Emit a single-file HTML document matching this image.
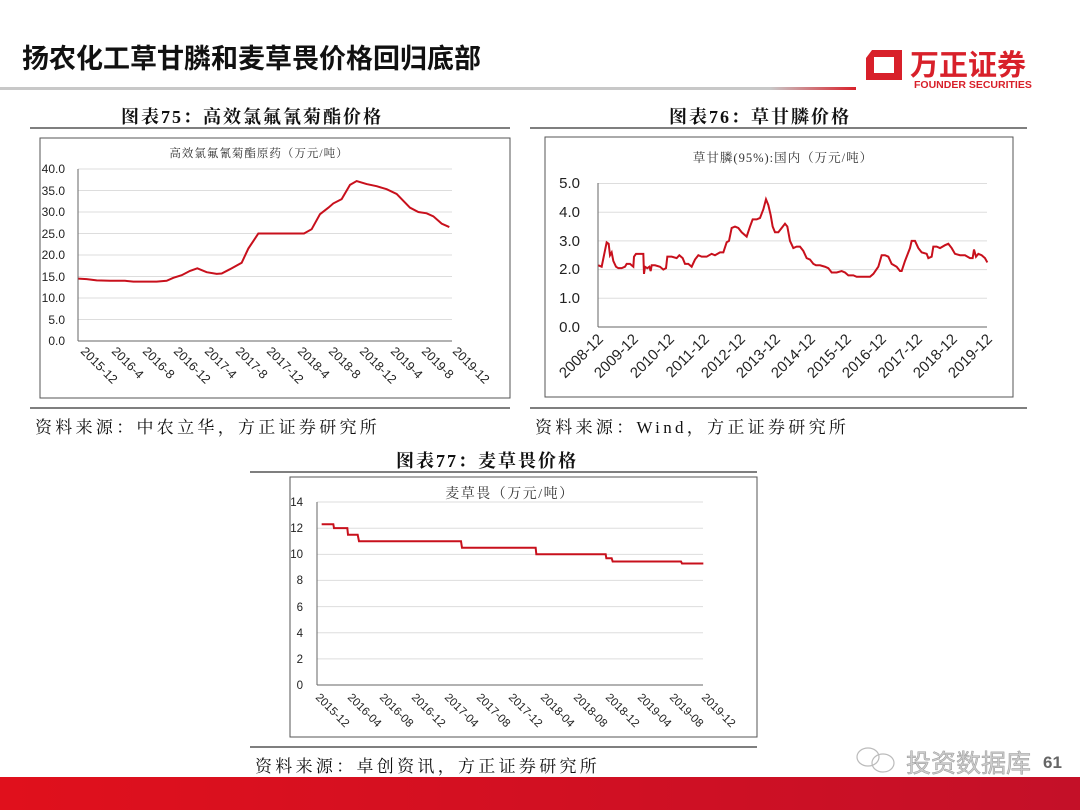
<!DOCTYPE html>
<html><head><meta charset="utf-8"><style>
html,body{margin:0;padding:0;background:#fff;}
svg{display:block;}
.s{font-family:"Liberation Serif","Noto Serif CJK SC",serif;}
.a{font-family:"Liberation Sans","Noto Sans CJK SC",sans-serif;}
</style></head><body>
<svg width="1080" height="810" viewBox="0 0 1080 810" xmlns="http://www.w3.org/2000/svg">
<defs>
<linearGradient id="hl" x1="0" x2="1"><stop offset="0" stop-color="#c8c8c8"/><stop offset="0.9" stop-color="#c8c8c8"/><stop offset="1" stop-color="#d8202a"/></linearGradient>
<linearGradient id="bb" x1="0" x2="1"><stop offset="0" stop-color="#e0101c"/><stop offset="1" stop-color="#c41028"/></linearGradient>
</defs>
<rect width="1080" height="810" fill="#fff"/>
<text x="22" y="68" class="a" font-size="27" font-weight="bold" fill="#111">扬农化工草甘膦和麦草畏价格回归底部</text>
<rect x="0" y="87" width="856" height="3" fill="url(#hl)"/>
<path d="M872 50 L902 50 L902 80 L866 80 L866 58 Z M874 57 L874 73 L894 73 L894 57 Z" fill="#d8202a" fill-rule="evenodd"/>
<text x="910" y="75" class="a" font-size="29" font-weight="bold" fill="#d8202a">万正证券</text>
<text x="914" y="88" class="a" font-size="10.5" font-weight="bold" fill="#d8202a">FOUNDER SECURITIES</text>

<!-- Chart 1 -->
<text x="252" y="123" class="s" font-size="18" font-weight="bold" text-anchor="middle" fill="#111" letter-spacing="2">图表75：高效氯氟氰菊酯价格</text>
<line x1="30" y1="128" x2="510" y2="128" stroke="#333" stroke-width="1.2"/>
<rect x="40" y="138" width="470" height="260" fill="none" stroke="#555" stroke-width="1"/>
<text x="259" y="157" class="s" font-size="11.5" text-anchor="middle" fill="#333" letter-spacing="1">高效氯氟氰菊酯原药（万元/吨）</text>
<g stroke="#ddd" stroke-width="1">
<line x1="78" y1="169" x2="452" y2="169"/><line x1="78" y1="190.5" x2="452" y2="190.5"/><line x1="78" y1="212" x2="452" y2="212"/><line x1="78" y1="233.5" x2="452" y2="233.5"/><line x1="78" y1="255" x2="452" y2="255"/><line x1="78" y1="276.5" x2="452" y2="276.5"/><line x1="78" y1="298" x2="452" y2="298"/><line x1="78" y1="319.5" x2="452" y2="319.5"/>
</g>
<line x1="78" y1="169" x2="78" y2="341" stroke="#666"/>
<line x1="78" y1="341" x2="452" y2="341" stroke="#666"/>
<g class="a" font-size="12" fill="#222" text-anchor="end">
<text x="65" y="173">40.0</text><text x="65" y="195">35.0</text><text x="65" y="216">30.0</text><text x="65" y="238">25.0</text><text x="65" y="259">20.0</text><text x="65" y="281">15.0</text><text x="65" y="302">10.0</text><text x="65" y="324">5.0</text><text x="65" y="345">0.0</text>
</g>
<g class="a" font-size="12.5" fill="#222">
<text transform="translate(80,352) rotate(45)">2015-12</text>
<text transform="translate(111,352) rotate(45)">2016-4</text>
<text transform="translate(142,352) rotate(45)">2016-8</text>
<text transform="translate(173,352) rotate(45)">2016-12</text>
<text transform="translate(204,352) rotate(45)">2017-4</text>
<text transform="translate(235,352) rotate(45)">2017-8</text>
<text transform="translate(266,352) rotate(45)">2017-12</text>
<text transform="translate(297,352) rotate(45)">2018-4</text>
<text transform="translate(328,352) rotate(45)">2018-8</text>
<text transform="translate(359,352) rotate(45)">2018-12</text>
<text transform="translate(390,352) rotate(45)">2019-4</text>
<text transform="translate(421,352) rotate(45)">2019-8</text>
<text transform="translate(452,352) rotate(45)">2019-12</text>
</g>
<g transform="translate(0,341) scale(0.33333,-4.3)">
<polyline vector-effect="non-scaling-stroke" fill="none" stroke="#c8101c" stroke-width="2" points="235,14.5 260,14.4 290,14.1 330,14.0 375,14.0 400,13.8 470,13.8 500,14.0 520,14.7 545,15.3 570,16.3 592,16.9 620,16.0 650,15.6 665,15.7 690,16.7 725,18.2 745,21.5 775,25.0 800,25.0 912,25.0 935,26.0 960,29.5 985,31.0 1000,32.0 1025,33.0 1050,36.3 1070,37.2 1100,36.5 1130,36.0 1160,35.3 1190,34.2 1230,31.0 1255,30.0 1280,29.7 1300,29.0 1325,27.3 1348,26.5"/>
</g>
<line x1="30" y1="408" x2="510" y2="408" stroke="#333" stroke-width="1.2"/>
<text x="35" y="433" class="s" font-size="17" fill="#111" letter-spacing="3.3">资料来源：中农立华，方正证券研究所</text>

<!-- Chart 2 -->
<text x="760" y="123" class="s" font-size="18" font-weight="bold" text-anchor="middle" fill="#111" letter-spacing="2">图表76：草甘膦价格</text>
<line x1="530" y1="128" x2="1027" y2="128" stroke="#333" stroke-width="1.2"/>
<rect x="545" y="137" width="468" height="260" fill="none" stroke="#555" stroke-width="1"/>
<text x="783" y="162" class="s" font-size="12.5" text-anchor="middle" fill="#333" letter-spacing="1">草甘膦(95%):国内（万元/吨）</text>
<g stroke="#ddd" stroke-width="1">
<line x1="598" y1="183.5" x2="987" y2="183.5"/><line x1="598" y1="212.2" x2="987" y2="212.2"/><line x1="598" y1="240.9" x2="987" y2="240.9"/><line x1="598" y1="269.6" x2="987" y2="269.6"/><line x1="598" y1="298.3" x2="987" y2="298.3"/>
</g>
<line x1="598" y1="183" x2="598" y2="327" stroke="#666"/>
<line x1="598" y1="327" x2="987" y2="327" stroke="#666"/>
<g class="a" font-size="15" fill="#222" text-anchor="end">
<text x="580" y="188">5.0</text><text x="580" y="217">4.0</text><text x="580" y="246">3.0</text><text x="580" y="274">2.0</text><text x="580" y="303">1.0</text><text x="580" y="332">0.0</text>
</g>
<g class="a" font-size="15" fill="#222" text-anchor="end">
<text transform="translate(604,340) rotate(-45)">2008-12</text>
<text transform="translate(639,340) rotate(-45)">2009-12</text>
<text transform="translate(675,340) rotate(-45)">2010-12</text>
<text transform="translate(710,340) rotate(-45)">2011-12</text>
<text transform="translate(746,340) rotate(-45)">2012-12</text>
<text transform="translate(781,340) rotate(-45)">2013-12</text>
<text transform="translate(816,340) rotate(-45)">2014-12</text>
<text transform="translate(852,340) rotate(-45)">2015-12</text>
<text transform="translate(887,340) rotate(-45)">2016-12</text>
<text transform="translate(923,340) rotate(-45)">2017-12</text>
<text transform="translate(958,340) rotate(-45)">2018-12</text>
<text transform="translate(993,340) rotate(-45)">2019-12</text>
</g>
<g transform="translate(530,327) scale(0.33333,-28.7)">
<polyline vector-effect="non-scaling-stroke" fill="none" stroke="#c8101c" stroke-width="2" points="205,2.15 215,2.1 222,2.5 230,2.95 236,2.9 240,2.5 245,2.6 250,2.3 258,2.1 265,2.05 275,2.05 285,2.1 290,2.2 300,2.2 310,2.1 312,2.45 318,2.55 330,2.55 340,2.55 342,1.85 345,2.1 352,2.05 358,2.1 362,1.95 365,2.15 375,2.15 390,2.1 400,2.0 408,2.05 412,2.45 425,2.45 440,2.4 448,2.5 458,2.4 465,2.2 475,2.2 485,2.1 495,2.35 505,2.5 515,2.45 530,2.45 545,2.55 555,2.5 570,2.6 580,2.6 590,2.95 597,3.0 605,3.45 615,3.5 625,3.45 635,3.3 650,3.15 660,3.5 668,3.75 680,3.75 690,3.8 700,4.1 708,4.45 715,4.25 722,3.9 728,3.5 735,3.3 745,3.3 755,3.45 765,3.6 772,3.5 780,3.0 790,2.75 800,2.8 810,2.8 820,2.65 830,2.4 840,2.35 850,2.2 858,2.15 870,2.15 885,2.1 895,2.05 905,1.9 920,1.9 935,1.95 945,1.9 955,1.8 970,1.8 980,1.75 995,1.75 1010,1.75 1020,1.75 1030,1.85 1045,2.1 1055,2.5 1065,2.5 1075,2.45 1085,2.2 1100,2.1 1110,1.95 1115,1.95 1125,2.3 1135,2.6 1140,2.75 1145,3.0 1155,3.0 1165,2.75 1175,2.6 1190,2.55 1195,2.4 1205,2.45 1210,2.8 1220,2.8 1230,2.75 1245,2.85 1255,2.9 1265,2.75 1275,2.55 1290,2.5 1305,2.5 1320,2.4 1328,2.4 1332,2.7 1338,2.45 1345,2.55 1355,2.5 1365,2.4 1372,2.25"/>
</g>
<line x1="530" y1="408" x2="1027" y2="408" stroke="#333" stroke-width="1.2"/>
<text x="535" y="433" class="s" font-size="17" fill="#111" letter-spacing="3.3">资料来源：Wind，方正证券研究所</text>

<!-- Chart 3 -->
<text x="487" y="467" class="s" font-size="18" font-weight="bold" text-anchor="middle" fill="#111" letter-spacing="2">图表77：麦草畏价格</text>
<line x1="250" y1="472" x2="757" y2="472" stroke="#333" stroke-width="1.2"/>
<rect x="290" y="477" width="467" height="260" fill="none" stroke="#555" stroke-width="1"/>
<text x="510" y="498" class="s" font-size="14" text-anchor="middle" fill="#333" letter-spacing="1.5">麦草畏（万元/吨）</text>
<g stroke="#ddd" stroke-width="1">
<line x1="317" y1="502" x2="703" y2="502"/><line x1="317" y1="528.3" x2="703" y2="528.3"/><line x1="317" y1="554.4" x2="703" y2="554.4"/><line x1="317" y1="580.4" x2="703" y2="580.4"/><line x1="317" y1="606.6" x2="703" y2="606.6"/><line x1="317" y1="632.7" x2="703" y2="632.7"/><line x1="317" y1="658.9" x2="703" y2="658.9"/>
</g>
<line x1="317" y1="502" x2="317" y2="685" stroke="#666"/>
<line x1="317" y1="685" x2="703" y2="685" stroke="#666"/>
<g class="a" font-size="11.5" fill="#222" text-anchor="end">
<text x="303" y="506">14</text><text x="303" y="532">12</text><text x="303" y="558">10</text><text x="303" y="584">8</text><text x="303" y="611">6</text><text x="303" y="637">4</text><text x="303" y="663">2</text><text x="303" y="689">0</text>
</g>
<g class="a" font-size="11.5" fill="#222">
<text transform="translate(315,698) rotate(45)">2015-12</text>
<text transform="translate(347,698) rotate(45)">2016-04</text>
<text transform="translate(379,698) rotate(45)">2016-08</text>
<text transform="translate(411,698) rotate(45)">2016-12</text>
<text transform="translate(444,698) rotate(45)">2017-04</text>
<text transform="translate(476,698) rotate(45)">2017-08</text>
<text transform="translate(508,698) rotate(45)">2017-12</text>
<text transform="translate(540,698) rotate(45)">2018-04</text>
<text transform="translate(573,698) rotate(45)">2018-08</text>
<text transform="translate(605,698) rotate(45)">2018-12</text>
<text transform="translate(637,698) rotate(45)">2019-04</text>
<text transform="translate(669,698) rotate(45)">2019-08</text>
<text transform="translate(701,698) rotate(45)">2019-12</text>
</g>
<g transform="translate(240,685) scale(0.33333,-13.07)">
<polyline vector-effect="non-scaling-stroke" fill="none" stroke="#c8101c" stroke-width="2" points="245,12.3 280,12.3 282,12.0 322,12.0 324,11.5 353,11.5 357,11.0 663,11.0 666,10.5 887,10.5 889,10.0 1097,10.0 1099,9.7 1115,9.7 1118,9.45 1323,9.45 1326,9.3 1390,9.3"/>
</g>
<line x1="250" y1="747" x2="757" y2="747" stroke="#333" stroke-width="1.2"/>
<text x="255" y="772" class="s" font-size="17" fill="#111" letter-spacing="3.3">资料来源：卓创资讯，方正证券研究所</text>

<g fill="none" stroke="#bbb" stroke-width="1.2">
<ellipse cx="868" cy="757" rx="11" ry="9"/><ellipse cx="883" cy="763" rx="11" ry="9"/>
</g>
<text x="906" y="772" class="a" font-size="25" fill="#ccc" stroke="#999" stroke-width="0.5">投资数据库</text>
<text x="1043" y="768" class="a" font-size="17" font-weight="bold" fill="#666">61</text>
<rect x="0" y="777" width="1080" height="33" fill="url(#bb)"/>
</svg>
</body></html>
